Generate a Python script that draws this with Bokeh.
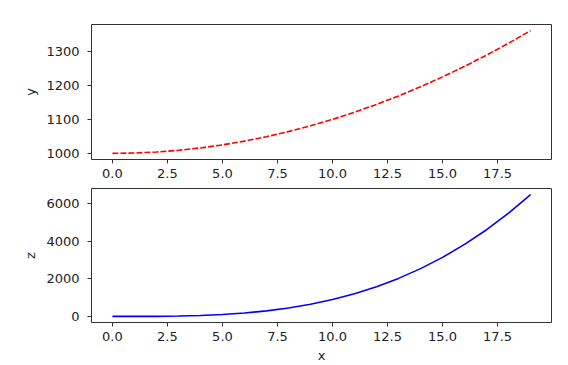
from bokeh.plotting import figure
from bokeh.layouts import column
from bokeh.models import Range1d, FixedTicker, PrintfTickFormatter
from bokeh.embed import file_html
from bokeh.resources import INLINE

x = [0, 1, 2, 3, 4, 5, 6, 7, 8, 9, 10, 11, 12, 13, 14, 15, 16, 17, 18, 19]
y = [1000, 1001, 1004, 1009, 1016, 1025, 1036, 1049, 1064, 1081,
     1100, 1121, 1144, 1169, 1196, 1225, 1256, 1289, 1324, 1361]
z = [0, 0, 4, 18, 48, 100, 180, 294, 448, 648,
     900, 1210, 1584, 2028, 2548, 3150, 3840, 4624, 5508, 6498]

x_ticks = [0, 2.5, 5, 7.5, 10, 12.5, 15, 17.5]
y_ticks = [1000, 1100, 1200, 1300]
z_ticks = [0, 2000, 4000, 6000]

FONT = "DejaVu Sans"
TXT = "#222222"


def padded(vals, frac=0.05):
    lo, hi = min(vals), max(vals)
    d = (hi - lo) * frac
    return Range1d(lo - d, hi + d)


def style(p, xt, yt, ylabel, xlabel=None):
    p.xgrid.grid_line_color = None
    p.ygrid.grid_line_color = None
    p.outline_line_color = "#333333"
    p.outline_line_width = 1
    p.outline_line_alpha = 1
    p.background_fill_color = "white"
    p.border_fill_color = "white"
    for ax in (p.xaxis[0], p.yaxis[0]):
        ax.axis_line_color = None
        ax.major_tick_out = 4
        ax.major_tick_in = 0
        ax.minor_tick_out = 0
        ax.minor_tick_in = 0
        ax.major_tick_line_color = "#333333"
        ax.major_label_text_font = FONT
        ax.major_label_text_font_size = "13px"
        ax.major_label_text_color = TXT
        ax.axis_label_text_font = FONT
        ax.axis_label_text_font_size = "13px"
        ax.axis_label_text_font_style = "normal"
        ax.axis_label_text_color = TXT
    p.xaxis[0].ticker = FixedTicker(ticks=xt)
    p.xaxis[0].formatter = PrintfTickFormatter(format="%.1f")
    p.xaxis[0].major_label_standoff = 5
    p.yaxis[0].ticker = FixedTicker(ticks=yt)
    p.yaxis[0].major_label_standoff = 8
    p.yaxis[0].axis_label = ylabel
    p.yaxis[0].axis_label_standoff = 5
    if xlabel:
        p.xaxis[0].axis_label = xlabel
        p.xaxis[0].axis_label_standoff = 4


W = 561
p1 = figure(width=W, height=24 + 135 + 25, output_backend="svg", toolbar_location=None,
            x_range=padded(x), y_range=padded(y),
            min_border_left=91, min_border_right=10, min_border_top=24, min_border_bottom=25)
p1.line(x, y, line_color="#ff0000", line_width=1.6, line_dash="6 2")
style(p1, x_ticks, y_ticks, "y")

p2 = figure(width=W, height=4 + 136 + 41, output_backend="svg", toolbar_location=None,
            x_range=padded(x), y_range=padded(z),
            min_border_left=91, min_border_right=10, min_border_top=4, min_border_bottom=41)
p2.line(x, z, line_color="#0000ff", line_width=1.6)
style(p2, x_ticks, z_ticks, "z", "x")

layout = column(p1, p2)
open("out.html", "w").write(file_html(layout, INLINE))
